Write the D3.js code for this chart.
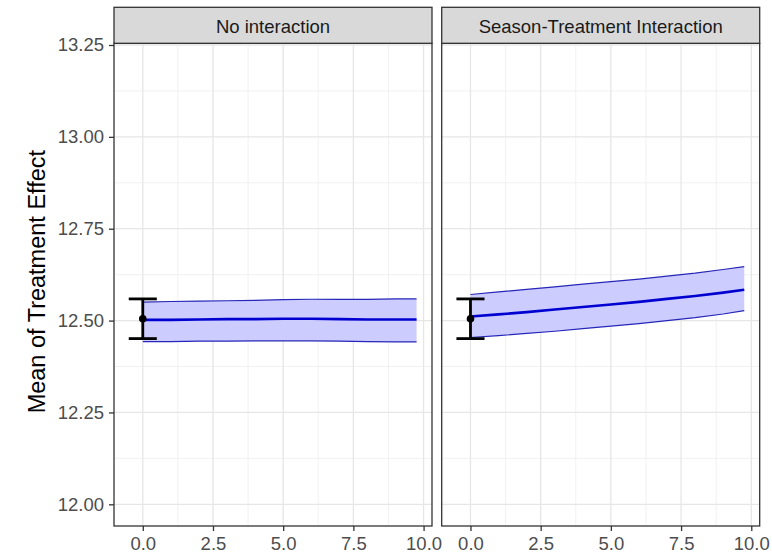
<!DOCTYPE html>
<meta charset="utf-8">
<style>
body { margin: 0; background: #fff; }
text { font-family: "Liberation Sans", Arial, sans-serif; }
</style>
<body>
<script src="https://d3js.org/d3.v7.min.js"></script>
<script>

// facet names
var panels = ["No interaction", "Season-Treatment Interaction"];

// time points of the ribbons
var xVals = [0, 1, 2, 3, 4, 5, 6, 7, 8, 9, 9.75];

// no interaction model
var noIntMean  = [12.502, 12.502, 12.503, 12.504, 12.504, 12.505, 12.505, 12.504, 12.503, 12.503, 12.503];
var noIntUpper = [12.550, 12.552, 12.553, 12.554, 12.555, 12.557, 12.558, 12.558, 12.558, 12.559, 12.559];
var noIntLower = [12.443, 12.443, 12.444, 12.444, 12.445, 12.445, 12.445, 12.444, 12.443, 12.442, 12.442];

// season-treatment interaction model
var seasMean  = [12.511, 12.517, 12.523, 12.530, 12.537, 12.544, 12.551, 12.559, 12.567, 12.576, 12.584];
var seasUpper = [12.571, 12.578, 12.585, 12.592, 12.599, 12.606, 12.613, 12.621, 12.629, 12.639, 12.647];
var seasLower = [12.454, 12.459, 12.465, 12.471, 12.478, 12.485, 12.492, 12.500, 12.508, 12.518, 12.527];

// observed mean with error bar (one per panel)
var obsX    = [0, 0];
var obsMean = [12.505, 12.505];
var obsLow  = [12.451, 12.451];
var obsHigh = [12.559, 12.559];

// axis ticks
var xTicks = [0, 2.5, 5, 7.5, 10];
var xMinor = [1.25, 3.75, 6.25, 8.75];
var yTicks = [12.00, 12.25, 12.50, 12.75, 13.00, 13.25];
var yMinor = [12.125, 12.375, 12.625, 12.875, 13.125];

var W = 772, H = 560;
var panelLeft = [114, 441.7],
    panelW = 318,
    stripTop = 7.3,
    panelTop = 43.3,
    panelBottom = 526;

var svg = d3.select("body").append("svg")
    .attr("width", W)
    .attr("height", H);

var x = d3.scaleLinear().domain([-1.025, 10.30]).range([0, panelW]);
var y = d3.scaleLinear().domain([11.941, 13.2546]).range([panelBottom, panelTop]);

var series = [
  {mean: noIntMean, upper: noIntUpper, lower: noIntLower},
  {mean: seasMean, upper: seasUpper, lower: seasLower}
];

panels.forEach(function(name, i) {
  var g = svg.append("g")
      .attr("transform", "translate(" + panelLeft[i] + ",0)");

  // grid
  g.selectAll(".xminor").data(xMinor).enter().append("line")
      .attr("x1", x).attr("x2", x)
      .attr("y1", panelTop).attr("y2", panelBottom)
      .attr("stroke", "#EBEBEB").attr("stroke-width", 0.7);
  g.selectAll(".yminor").data(yMinor).enter().append("line")
      .attr("x1", 0).attr("x2", panelW)
      .attr("y1", y).attr("y2", y)
      .attr("stroke", "#EBEBEB").attr("stroke-width", 0.7);
  g.selectAll(".xmajor").data(xTicks).enter().append("line")
      .attr("x1", x).attr("x2", x)
      .attr("y1", panelTop).attr("y2", panelBottom)
      .attr("stroke", "#E6E6E6").attr("stroke-width", 1.3);
  g.selectAll(".ymajor").data(yTicks).enter().append("line")
      .attr("x1", 0).attr("x2", panelW)
      .attr("y1", y).attr("y2", y)
      .attr("stroke", "#E6E6E6").attr("stroke-width", 1.3);

  var s = series[i];
  var pts = xVals.map(function(v, k) {
    return {x: v, m: s.mean[k], hi: s.upper[k], lo: s.lower[k]};
  });

  // ribbon
  var area = d3.area()
      .x(function(d) { return x(d.x); })
      .y0(function(d) { return y(d.lo); })
      .y1(function(d) { return y(d.hi); });
  g.append("path").datum(pts)
      .attr("d", area)
      .attr("fill", "#CCCCFF");

  var edge = function(key) {
    return d3.line()
      .x(function(d) { return x(d.x); })
      .y(function(d) { return y(d[key]); });
  };
  g.append("path").datum(pts).attr("d", edge("hi"))
      .attr("fill", "none").attr("stroke", "#2626B8").attr("stroke-width", 1.2);
  g.append("path").datum(pts).attr("d", edge("lo"))
      .attr("fill", "none").attr("stroke", "#2626B8").attr("stroke-width", 1.2);
  g.append("path").datum(pts).attr("d", edge("m"))
      .attr("fill", "none").attr("stroke", "#0000D0").attr("stroke-width", 2.6);

  // error bar
  var ex = x(obsX[i]);
  var capW = x(0.5) - x(0);
  g.append("line")
      .attr("x1", ex).attr("x2", ex)
      .attr("y1", y(obsLow[i])).attr("y2", y(obsHigh[i]))
      .attr("stroke", "#000").attr("stroke-width", 2.8);
  [obsLow[i], obsHigh[i]].forEach(function(v) {
    g.append("line")
        .attr("x1", ex - capW).attr("x2", ex + capW)
        .attr("y1", y(v)).attr("y2", y(v))
        .attr("stroke", "#000").attr("stroke-width", 2.8);
  });
  g.append("circle")
      .attr("cx", ex).attr("cy", y(obsMean[i]))
      .attr("r", 3.8).attr("fill", "#000");

  // panel border
  g.append("rect")
      .attr("x", 0).attr("y", panelTop)
      .attr("width", panelW).attr("height", panelBottom - panelTop)
      .attr("fill", "none").attr("stroke", "#333").attr("stroke-width", 1.3);

  // strip
  g.append("rect")
      .attr("x", 0).attr("y", stripTop)
      .attr("width", panelW).attr("height", panelTop - stripTop)
      .attr("fill", "#D9D9D9").attr("stroke", "#333").attr("stroke-width", 1.3);
  g.append("text")
      .attr("x", panelW / 2).attr("y", (stripTop + panelTop) / 2 + 1)
      .attr("text-anchor", "middle")
      .attr("dominant-baseline", "central")
      .attr("font-size", "18.5px")
      .attr("fill", "#1A1A1A")
      .text(name);

  // x axis
  var xa = g.append("g")
      .attr("transform", "translate(0," + panelBottom + ")")
      .call(d3.axisBottom(x).tickValues(xTicks).tickFormat(d3.format(".1f"))
            .tickSize(5).tickPadding(6));
  xa.select(".domain").remove();
  xa.selectAll("line").attr("stroke", "#333").attr("stroke-width", 1.3);
  xa.selectAll("text").attr("font-size", "18.5px").attr("fill", "#4D4D4D")
      .attr("font-family", "Liberation Sans, Arial, sans-serif");

  // y axis only on first panel
  if (i === 0) {
    var ya = g.append("g")
        .call(d3.axisLeft(y).tickValues(yTicks).tickFormat(d3.format(".2f"))
              .tickSize(5).tickPadding(5));
    ya.select(".domain").remove();
    ya.selectAll("line").attr("stroke", "#333").attr("stroke-width", 1.3);
    ya.selectAll("text").attr("font-size", "18.5px").attr("fill", "#4D4D4D")
        .attr("font-family", "Liberation Sans, Arial, sans-serif");
  }
});

// y axis title
svg.append("text")
    .attr("transform", "translate(37," + ((panelTop + panelBottom) / 2 - 3) + ") rotate(-90)")
    .attr("text-anchor", "middle")
    .attr("dominant-baseline", "central")
    .attr("font-size", "23.5px")
    .attr("fill", "#000")
    .text("Mean of Treatment Effect");

</script>
</body>
